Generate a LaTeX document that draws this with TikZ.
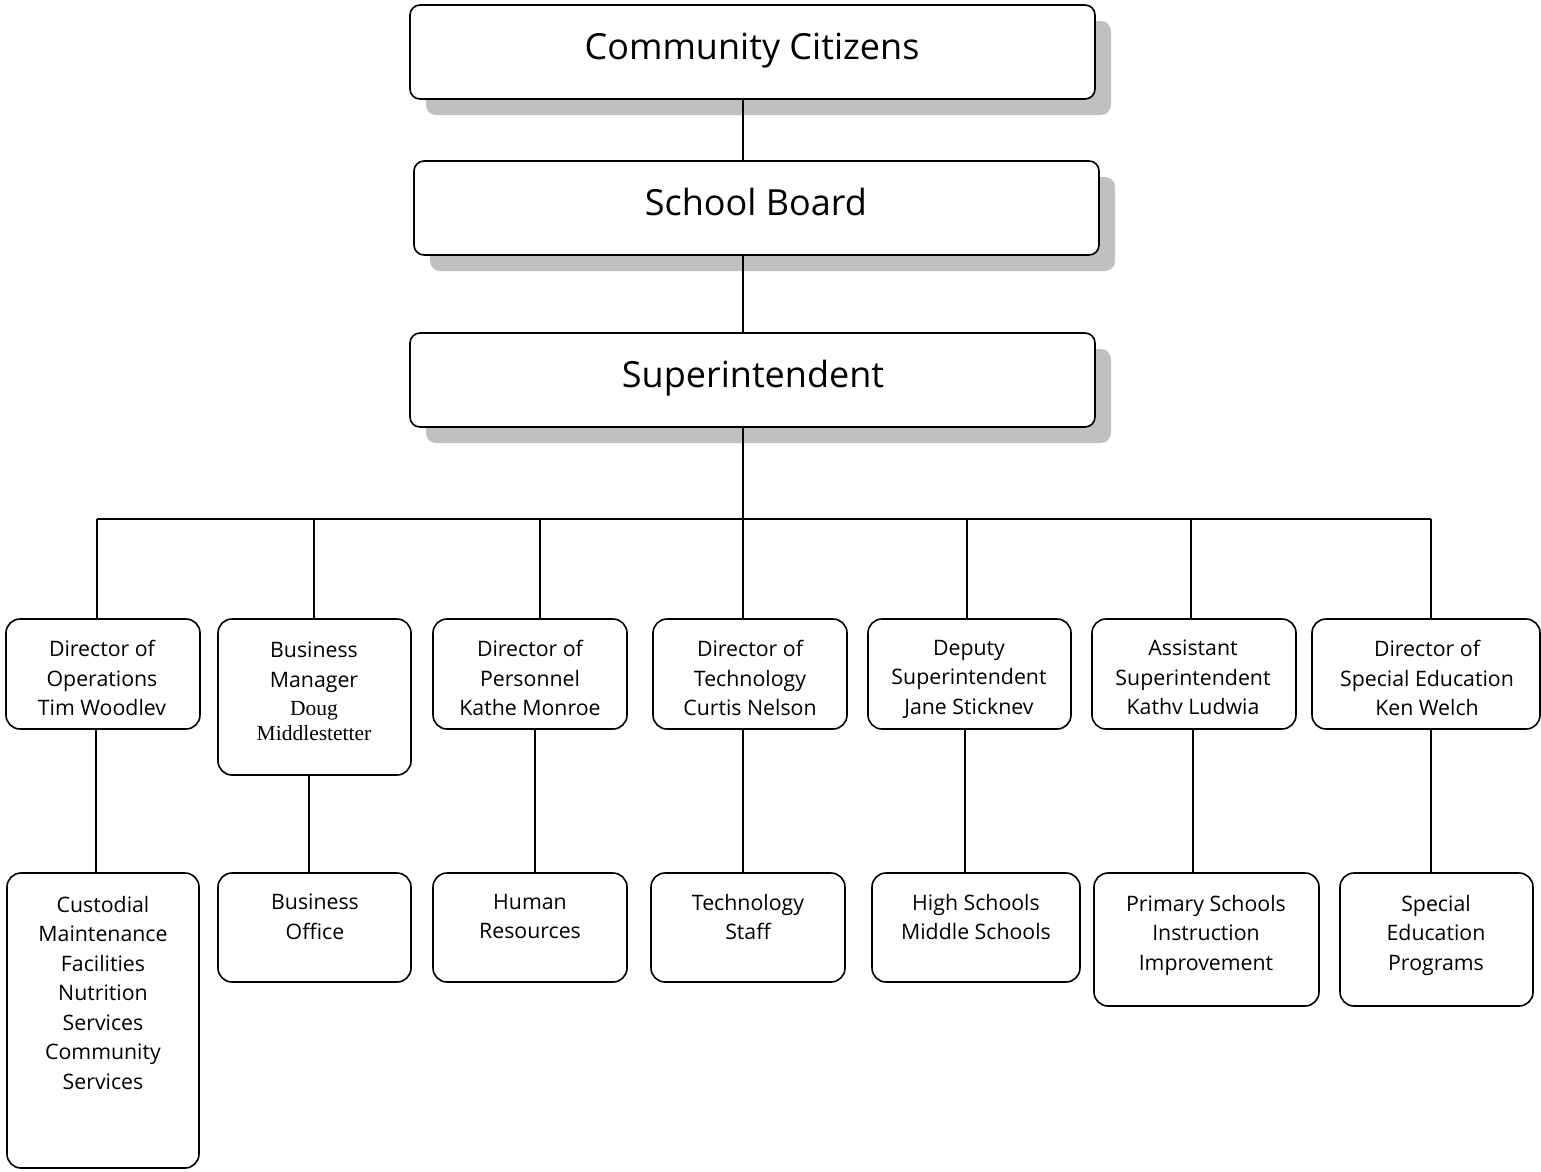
\documentclass[tikz,border=0pt]{standalone}
\usepackage{fontspec}
\setmainfont{Open Sans}
\newfontfamily\serifname{Liberation Serif}
\usetikzlibrary{shadows,fit}
\definecolor{shadowgray}{HTML}{C0C0C0}
\begin{document}
\begin{tikzpicture}[x=1pt,y=-1pt,
  box/.style={draw, line width=1.6pt, rounded corners=14pt, inner sep=0pt},
  bigbox/.style={box, rounded corners=10pt, fill=white,
    general shadow={fill=shadowgray, shadow xshift=16pt, shadow yshift=-16pt}},
  txt/.style={align=center, inner sep=0pt, anchor=north, font=\fontsize{21.3}{29.5}\selectfont},
  bigtxt/.style={inner sep=0pt, anchor=base, font=\fontsize{36}{42}\selectfont},
  conn/.style={line width=1.6pt}]
\useasboundingbox (0,0) rectangle (1541,1171);
% top boxes
\node[bigbox, fit={(410,5) (1095,99)}] (cc) {};
\node[bigbox, fit={(414,161) (1099,255)}] (sb) {};
\node[bigbox, fit={(410,333) (1095,427)}] (sup) {};
\node[bigtxt] (cct) at (752,59) {Community Citizens};
\node[bigtxt] (sbt) at (756,215) {School Board};
\node[bigtxt] (supt) at (753,387) {Superintendent};
% level 2
\node[box, fit={(6,619) (200,729)}] (d1) {};
\node[box, fit={(218,619) (411,775)}] (d2) {};
\node[box, fit={(433,619) (627,729)}] (d3) {};
\node[box, fit={(653,619) (847,729)}] (d4) {};
\node[box, fit={(868,619) (1071,729)}] (d5) {};
\node[box, fit={(1092,619) (1296,729)}] (d6) {};
\node[box, fit={(1312,619) (1540,729)}] (d7) {};
\node[txt] (d1t) at (102,640) {Director of\\Operations\\Tim Woodlev};
\node[txt] (d2t) at (314,642) {Business\\Manager\\[-1.5pt]{\serifname\fontsize{21.5}{25}\selectfont Doug}\\[-4pt]{\serifname\fontsize{21.5}{25}\selectfont Middlestetter}};
\node[txt] (d3t) at (530,640) {Director of\\Personnel\\Kathe Monroe};
\node[txt] (d4t) at (750,640) {Director of\\Technology\\Curtis Nelson};
\node[txt] (d5t) at (969,640) {Deputy\\Superintendent\\Jane Sticknev};
\node[txt] (d6t) at (1193,640) {Assistant\\Superintendent\\Kathv Ludwia};
\node[txt] (d7t) at (1427,640) {Director of\\Special Education\\Ken Welch};
% level 3
\node[box, fit={(7,873) (199,1168)}] (u1) {};
\node[box, fit={(218,873) (411,982)}] (u2) {};
\node[box, fit={(433,873) (627,982)}] (u3) {};
\node[box, fit={(651,873) (845,982)}] (u4) {};
\node[box, fit={(872,873) (1080,982)}] (u5) {};
\node[box, fit={(1094,873) (1319,1006)}] (u6) {};
\node[box, fit={(1340,873) (1533,1006)}] (u7) {};
\node[txt] (u1t) at (103,896) {Custodial\\Maintenance\\Facilities\\Nutrition\\Services\\Community\\Services};
\node[txt] (u2t) at (315,894) {Business\\Office};
\node[txt] (u3t) at (530,894) {Human\\Resources};
\node[txt] (u4t) at (748,894) {Technology\\Staff};
\node[txt] (u5t) at (976,894) {High Schools\\Middle Schools};
\node[txt] (u6t) at (1206,895) {Primary Schools\\Instruction\\Improvement};
\node[txt] (u7t) at (1436,895) {Special\\Education\\Programs};
% connectors
\coordinate (bus) at (743,519);
\draw[conn] (cc.south -| bus) -- (sb.north -| bus);
\draw[conn] (sb.south -| bus) -- (sup.north -| bus);
\draw[conn] (sup.south -| bus) -- (bus);
\coordinate (b1) at (97,519);
\coordinate (b2) at (314,519);
\coordinate (b3) at (540,519);
\coordinate (b4) at (743,519);
\coordinate (b5) at (967,519);
\coordinate (b6) at (1191,519);
\coordinate (b7) at (1431,519);
\draw[conn] (b1) -- (b7);
\foreach \i in {1,...,7} {\draw[conn] (b\i) -- (b\i |- d\i.north);}
\coordinate (v1) at (96,800);
\coordinate (v2) at (309,800);
\coordinate (v3) at (535,800);
\coordinate (v4) at (743,800);
\coordinate (v5) at (965,800);
\coordinate (v6) at (1193,800);
\coordinate (v7) at (1431,800);
\foreach \i in {1,...,7} {\draw[conn] (v\i |- d\i.south) -- (v\i |- u\i.north);}
\end{tikzpicture}
\end{document}
